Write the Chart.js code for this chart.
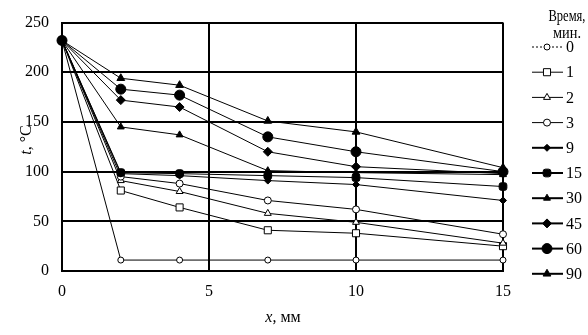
<!DOCTYPE html>
<html>
<head>
<meta charset="utf-8">
<script src="https://cdn.jsdelivr.net/npm/chart.js@4/dist/chart.umd.min.js"></script>
<style>
    html, body { margin: 0; padding: 0; background: #fff; }
    #wrap { width: 588px; height: 335px; }
</style>
</head>
<body>
<div id="wrap"><canvas id="temperatura"></canvas></div>
<script>
// расстояние от поверхности, мм
const xMm = [0, 2, 4, 7, 10, 15];
// время, мин.
const vremya = ['0', '1', '2', '3', '9', '15', '30', '45', '60', '90'];
const yTicks = [0, 50, 100, 150, 200, 250];
const xTicks = [0, 5, 10, 15];

// температура, °C
const t0 = [232, 11, 11, 11, 11, 11];
const t1 = [232, 81, 64, 41, 38, 25];
const t2 = [232, 91, 80, 58, 49, 28];
const t3 = [232, 95, 88, 71, 62, 37];
const t9 = [232, 98, 96, 91, 87, 71];
const t15 = [232, 99, 98, 96, 94, 85];
const t30 = [232, 145, 137, 101, 99, 97];
const t45 = [232, 172, 165, 120, 105, 98];
const t60 = [232, 183, 177, 135, 120, 100];
const t90 = [232, 194, 187, 151, 140, 104];
const serii = [t0, t1, t2, t3, t9, t15, t30, t45, t60, t90];

// маркеры
const stili = [
    { style: 'circle', r: 3, fill: '#fff', dash: [2, 2] },
    { style: 'rect', r: 5, fill: '#fff' },
    { style: 'triangle', r: 4, fill: '#fff' },
    { style: 'circle', r: 3.5, fill: '#fff' },
    { style: 'rectRot', r: 3.5, fill: '#000' },
    { style: 'rectRounded', r: 4.5, fill: '#000' },
    { style: 'triangle', r: 4, fill: '#000' },
    { style: 'rectRot', r: 4.5, fill: '#000' },
    { style: 'circle', r: 5, fill: '#000' },
    { style: 'triangle', r: 4.5, fill: '#000' }
];

const shrift = '"Liberation Serif", "Times New Roman", serif';

const datasets = serii.map((s, i) => ({
    label: vremya[i],
    data: s.map((v, k) => ({ x: xMm[k], y: v })),
    order: serii.length - i,
    borderColor: '#000',
    borderWidth: 1,
    pointStyle: stili[i].style,
    pointRadius: stili[i].r,
    pointBackgroundColor: stili[i].fill,
    pointBorderColor: '#000',
    pointBorderWidth: 1,
    clip: false
}));

const podpisi = {
    id: 'podpisi',
    afterDraw(chart) {
        const ctx = chart.ctx;
        ctx.save();
        ctx.fillStyle = '#000';
        ctx.textBaseline = 'middle';

        // подпись оси x
        ctx.font = 'italic 16px ' + shrift;
        const wx = ctx.measureText('x').width;
        ctx.font = '16px ' + shrift;
        const wmm = ctx.measureText(', мм').width;
        let x0 = 283 - (wx + wmm) / 2;
        ctx.textAlign = 'left';
        ctx.font = 'italic 16px ' + shrift;
        ctx.fillText('x', x0, 318);
        ctx.font = '16px ' + shrift;
        ctx.fillText(', мм', x0 + wx, 318);

        // подпись оси y
        ctx.save();
        ctx.translate(27, 140);
        ctx.rotate(-Math.PI / 2);
        ctx.font = 'italic 16px ' + shrift;
        const wt = ctx.measureText('t').width;
        ctx.font = '16px ' + shrift;
        const wc = ctx.measureText(', °C').width;
        const s0 = -(wt + wc) / 2;
        ctx.font = 'italic 16px ' + shrift;
        ctx.fillText('t', s0, 0);
        ctx.font = '16px ' + shrift;
        ctx.fillText(', °C', s0 + wt, 0);
        ctx.restore();

        // легенда
        ctx.font = '16px ' + shrift;
        ctx.textAlign = 'center';
        ctx.fillText('Время,', 567, 17, 37);
        ctx.fillText('мин.', 567, 34, 28);
        ctx.textAlign = 'left';
        vremya.forEach((lbl, i) => {
            const y = 47 + i * 25.2;
            ctx.strokeStyle = '#000';
            ctx.lineWidth = i < 4 ? 1 : 2;
            ctx.setLineDash(stili[i].dash || []);
            ctx.beginPath();
            ctx.moveTo(532, y);
            ctx.lineTo(563, y);
            ctx.stroke();
            ctx.setLineDash([]);
            ctx.lineWidth = 1;
            ctx.fillStyle = stili[i].fill;
            Chart.helpers.drawPoint(ctx, {
                pointStyle: stili[i].style,
                radius: stili[i].r,
                borderWidth: 1,
                rotation: 0
            }, 547, y);
            ctx.fillStyle = '#000';
            ctx.fillText(lbl, 566, y + 1, 16);
        });
        ctx.restore();
    }
};

new Chart(document.getElementById('temperatura'), {
    type: 'line',
    data: { datasets: datasets },
    options: {
        responsive: true,
        maintainAspectRatio: false,
        animation: false,
        layout: {
            padding: { top: 14, right: 85, left: 0, bottom: 0 }
        },
        scales: {
            x: {
                type: 'linear',
                min: 0,
                max: 15,
                afterBuildTicks: (scale) => { scale.ticks = xTicks.map(v => ({ value: v })); },
                afterFit: (scale) => { scale.height = 64; },
                ticks: {
                    color: '#000',
                    padding: 11,
                    font: { family: shrift, size: 16 }
                },
                grid: { color: '#000', lineWidth: 2, drawTicks: false },
                border: { color: '#000', width: 2 }
            },
            y: {
                min: 0,
                max: 250,
                afterBuildTicks: (scale) => { scale.ticks = yTicks.map(v => ({ value: v })); },
                afterFit: (scale) => { scale.width = 62; },
                ticks: {
                    color: '#000',
                    padding: 13,
                    font: { family: shrift, size: 16 }
                },
                grid: { color: '#000', lineWidth: 2, drawTicks: false },
                border: { color: '#000', width: 2 }
            }
        },
        plugins: {
            legend: { display: false },
            tooltip: { enabled: false }
        }
    },
    plugins: [podpisi]
});
</script>
</body>
</html>
